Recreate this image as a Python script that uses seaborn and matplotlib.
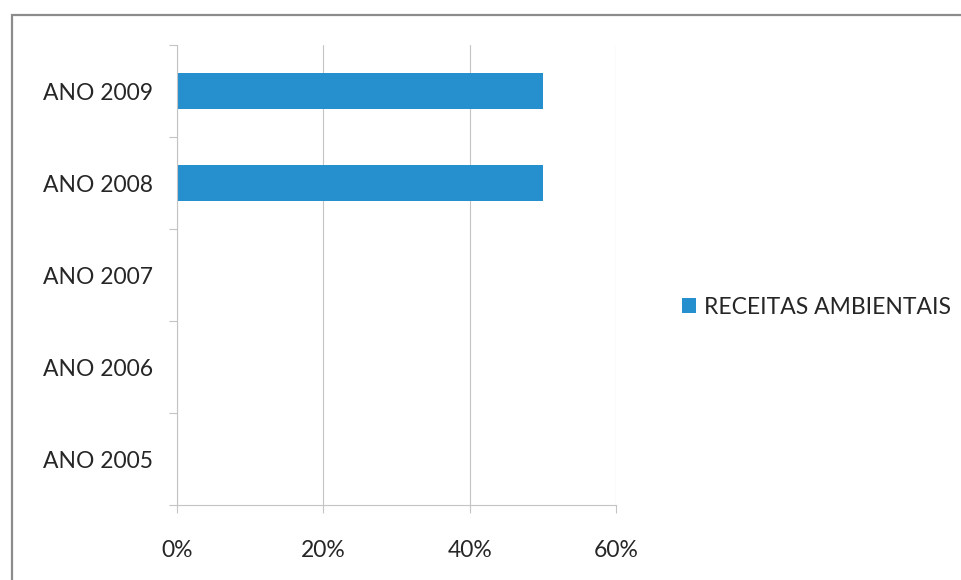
import matplotlib
matplotlib.use("Agg")
import matplotlib.pyplot as plt
from matplotlib.patches import Rectangle
from matplotlib.ticker import FixedLocator, PercentFormatter
import seaborn as sns
import pandas as pd

# Environmental revenue share per year
years = ["ANO 2009", "ANO 2008", "ANO 2007", "ANO 2006", "ANO 2005"]
receitas = [50, 50, 0, 0, 0]
series_name = "RECEITAS AMBIENTAIS"
x_ticks = [0, 20, 40, 60]

bar_color = "#2590CD"
text_color = "#262626"
grid_color = "#C4C4C4"

sns.set_theme(style="white")
plt.rcParams["font.family"] = ["Lato", "DejaVu Sans"]

df = pd.DataFrame({"ano": years, "valor": receitas, "serie": series_name})

fig = plt.figure(figsize=(9.61, 5.80), dpi=100)
ax = fig.add_axes([177 / 961, 1 - 505 / 580, (616 - 177) / 961, (505 - 45) / 580])

sns.barplot(data=df, y="ano", x="valor", hue="serie", order=years,
            palette=[bar_color], orient="h", width=0.39, ax=ax,
            saturation=1, edgecolor="none")

ax.set_xlim(0, 60)
ax.set_ylim(4.5, -0.5)
ax.set_xlabel("")
ax.set_ylabel("")
ax.xaxis.set_major_locator(FixedLocator(x_ticks))
ax.xaxis.set_major_formatter(PercentFormatter(decimals=0))
ax.xaxis.grid(True, color=grid_color, linewidth=0.8)
ax.set_axisbelow(True)

# tick marks sit between the categories
ax.yaxis.set_minor_locator(FixedLocator([i - 0.5 for i in range(len(years) + 1)]))
ax.tick_params(axis="y", which="major", length=0, pad=17, labelsize=16.5,
               labelcolor=text_color)
ax.tick_params(axis="y", which="minor", length=6, color=grid_color, width=0.8,
               left=True)
ax.tick_params(axis="x", which="major", length=6, color=grid_color, width=0.8,
               bottom=True, pad=19, labelsize=16.5, labelcolor=text_color)

for side in ["top", "right"]:
    ax.spines[side].set_visible(False)
for side in ["left", "bottom"]:
    ax.spines[side].set_color(grid_color)
    ax.spines[side].set_linewidth(0.8)

leg = ax.legend(loc="center left", bbox_to_anchor=(682 / 961, 1 - 307 / 580),
                bbox_transform=fig.transFigure, frameon=False, fontsize=16.5,
                handlelength=0.6, handleheight=0.6, handletextpad=0.35,
                borderaxespad=0, borderpad=0)
for t in leg.get_texts():
    t.set_color(text_color)

# chart area border
fig.patches.append(Rectangle((12 / 961, -0.05), 1.0, 1 - 15 / 580 + 0.05,
                             transform=fig.transFigure, fill=False,
                             edgecolor="#8C8C8C", linewidth=1.6))

fig.savefig("out.png", dpi=100, facecolor="white")
